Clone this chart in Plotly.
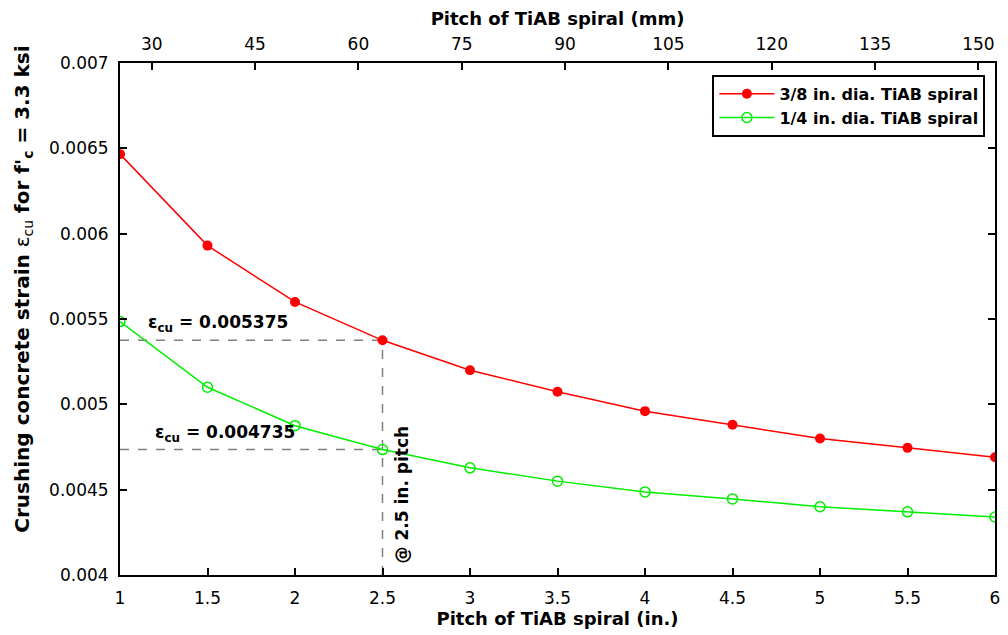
import plotly.graph_objects as go

pitch_in = [1, 1.5, 2, 2.5, 3, 3.5, 4, 4.5, 5, 5.5, 6]
eps_38 = [0.006466, 0.00593, 0.0056, 0.005375, 0.0052, 0.005074, 0.00496, 0.00488, 0.0048, 0.004745, 0.00469]
eps_14 = [0.005485, 0.0051, 0.004875, 0.004735, 0.004628, 0.00455, 0.004487, 0.004446, 0.0044, 0.00437, 0.00434]
mm_ticks = [30, 45, 60, 75, 90, 105, 120, 135, 150]
y_ticks = [0.004, 0.0045, 0.005, 0.0055, 0.006, 0.0065, 0.007]
ref_pitch = 2.5
ref_38 = 0.005375
ref_14 = 0.004735
MM_PER_IN = 25.4

FONT = "DejaVu Sans, sans-serif"

fig = go.Figure()

# reference dashed lines
dash = dict(color="#808080", width=1.5, dash="dash")
fig.add_trace(go.Scatter(x=[pitch_in[0], ref_pitch], y=[ref_38, ref_38], mode="lines",
                         line=dash, showlegend=False, hoverinfo="skip"))
fig.add_trace(go.Scatter(x=[pitch_in[0], ref_pitch], y=[ref_14, ref_14], mode="lines",
                         line=dash, showlegend=False, hoverinfo="skip"))
fig.add_trace(go.Scatter(x=[ref_pitch, ref_pitch], y=[y_ticks[0], ref_38], mode="lines",
                         line=dash, showlegend=False, hoverinfo="skip"))

fig.add_trace(go.Scatter(x=pitch_in, y=eps_38, mode="lines+markers",
                         name="<b>3/8 in. dia. TiAB spiral</b>",
                         line=dict(color="#ff0000", width=1.5),
                         marker=dict(symbol="circle", size=10, color="#ff0000")))
fig.add_trace(go.Scatter(x=pitch_in, y=eps_14, mode="lines+markers",
                         name="<b>1/4 in. dia. TiAB spiral</b>",
                         line=dict(color="#00ee00", width=1.5),
                         marker=dict(symbol="circle-open", size=10, color="#00ee00",
                                     line=dict(width=1.5, color="#00ee00"))))

# invisible trace for top axis
fig.add_trace(go.Scatter(x=[pitch_in[0] * MM_PER_IN, pitch_in[-1] * MM_PER_IN],
                         y=[y_ticks[0], y_ticks[0]], xaxis="x2", mode="markers",
                         marker=dict(opacity=0), showlegend=False, hoverinfo="skip"))

axis_common = dict(showline=True, linecolor="black", linewidth=2, ticks="inside",
                   ticklen=7, tickwidth=1.5, tickcolor="black", showgrid=False,
                   zeroline=False, tickfont=dict(family=FONT, size=17, color="black"))

fig.update_layout(
    width=1008, height=635,
    margin=dict(l=120, r=8, t=63, b=60),
    plot_bgcolor="white", paper_bgcolor="white",
    font=dict(family=FONT, color="black"),
    xaxis=dict(range=[pitch_in[0], pitch_in[-1]], tickvals=pitch_in,
               ticktext=[f"{v:g}" for v in pitch_in], mirror=False, ticklabelstandoff=7,
               title=dict(text="<b>Pitch of TiAB spiral (in.)</b>", font=dict(size=18), standoff=2),
               **axis_common),
    xaxis2=dict(range=[pitch_in[0] * MM_PER_IN, pitch_in[-1] * MM_PER_IN], overlaying="x",
                side="top", tickvals=mm_ticks, anchor="y", ticklabelstandoff=4,
                title=dict(text="<b>Pitch of TiAB spiral (mm)</b>", font=dict(size=18), standoff=4),
                **axis_common),
    yaxis=dict(range=[y_ticks[0], y_ticks[-1]], tickvals=y_ticks,
               ticktext=[f"{v:g}" for v in y_ticks], mirror="ticks", ticklabelstandoff=6,
               **axis_common),
    legend=dict(x=0.989, y=0.977, xanchor="right", yanchor="top",
                bgcolor="white", bordercolor="black", borderwidth=2,
                font=dict(family=FONT, size=16, color="black"),
                itemwidth=55, tracegroupgap=0),
    showlegend=True,
)

# y-axis title (placed as annotation to match the reference's offset)
fig.add_annotation(x=-0.111, y=0.559, xref="paper", yref="paper",
                   text="<b>Crushing concrete strain </b>ε<sub>cu</sub><b> for f'<sub>c</sub> = 3.3 ksi</b>",
                   showarrow=False, textangle=-90, xanchor="center", yanchor="middle",
                   font=dict(family=FONT, size=20, color="black"))

# annotations
fig.add_annotation(x=pitch_in[0], y=ref_38, xref="x", yref="y", text="<b>ε<sub>cu</sub> = 0.005375</b>",
                   showarrow=False, xanchor="left", yanchor="bottom", xshift=26, yshift=3,
                   font=dict(family=FONT, size=17, color="black"))
fig.add_annotation(x=pitch_in[0], y=ref_14, xref="x", yref="y", text="<b>ε<sub>cu</sub> = 0.004735</b>",
                   showarrow=False, xanchor="left", yanchor="bottom", xshift=33, yshift=3,
                   font=dict(family=FONT, size=17, color="black"))
fig.add_annotation(x=ref_pitch, y=y_ticks[0], xref="x", yref="y", text="<b>@ 2.5 in. pitch</b>",
                   showarrow=False, textangle=-90, xanchor="left", yanchor="bottom",
                   xshift=7, yshift=9, font=dict(family=FONT, size=17, color="black"))

fig.write_html("out.html")
